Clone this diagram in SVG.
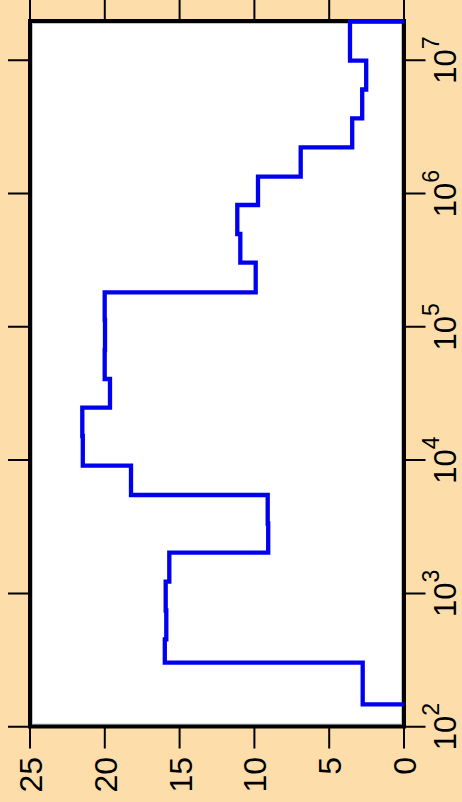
<svg xmlns="http://www.w3.org/2000/svg" width="462" height="802" viewBox="0 0 462 802">
  <style>
    .tick { stroke: #000; stroke-width: 2; fill: none; }
    .lbl { font-family: "Liberation Sans", Arial, sans-serif; font-size: 32px; fill: #000; }
    .lbl2 { font-family: "Liberation Sans", Arial, sans-serif; font-size: 31px; fill: #000; }
    .sup { font-size: 23px; }
    .series { stroke: #0000F0; stroke-width: 4.3; fill: none; stroke-linejoin: miter; stroke-linecap: butt; }
  </style>
  <rect x="0" y="0" width="462" height="802" fill="#FDDEAB"/>
  <g id="plot-area">
    <rect x="30" y="21" width="374" height="705.5" fill="#FFFFFF"/>
    <rect x="32.5" y="23.5" width="369" height="700.5" fill="none" stroke="#C4C4C4" stroke-width="1"/>
  </g>
  <g id="ticks">
    <path class="tick" d="M30 726 V748.5 M104.8 726 V748.5 M179.6 726 V748.5 M254.4 726 V748.5 M329.2 726 V748.5 M404 726 V748.5"/>
    <path class="tick" d="M30 -3 V21 M104.8 -3 V21 M179.6 -3 V21 M254.4 -3 V21 M329.2 -3 V21 M404 -3 V21"/>
    <path class="tick" d="M8 726.7 H30 M8 593.4 H30 M8 460.1 H30 M8 326.8 H30 M8 193.5 H30 M8 60.2 H30"/>
    <path class="tick" d="M404 726.7 H425.5 M404 593.4 H425.5 M404 460.1 H425.5 M404 326.8 H425.5 M404 193.5 H425.5 M404 60.2 H425.5"/>
  </g>
  <g id="frame">
    <rect x="30" y="21" width="374" height="705.5" fill="none" stroke="#000" stroke-width="4"/>
  </g>
  <g id="series">
    <path class="series" d="M404 21.5 H350 V60.7 H366.2 V89.5 H362.2 V118.3 H352.2 V147.3 H300.7 V176.7 H258 V205 H237.3 V234 H240.3 V262.7 H255.7 V292.3 H104.7 V320 H105 V350 H104.7 V379 H110 V407.7 H82.3 V436 H82.8 V465.7 H131 V495 H267.7 V523.5 H268.2 V552.7 H169.3 V581.7 H165.7 V610.5 H166.3 V639.3 H164.8 V662.7 H362.7 V704.3 H404"/>
  </g>
  <g id="count-labels" class="lbl" text-anchor="end">
    <text transform="translate(42,757) rotate(-90)">25</text>
    <text transform="translate(116.8,757) rotate(-90)">20</text>
    <text transform="translate(191.6,757) rotate(-90)">15</text>
    <text transform="translate(266.4,757) rotate(-90)">10</text>
    <text transform="translate(341.2,757) rotate(-90)">5</text>
    <text transform="translate(416,757) rotate(-90)">0</text>
  </g>
  <g id="log-labels" class="lbl2" text-anchor="middle">
    <text transform="translate(456,726.7) rotate(-90)">10<tspan class="sup" dy="-17">2</tspan></text>
    <text transform="translate(456,593.4) rotate(-90)">10<tspan class="sup" dy="-17">3</tspan></text>
    <text transform="translate(456,460.1) rotate(-90)">10<tspan class="sup" dy="-17">4</tspan></text>
    <text transform="translate(456,326.8) rotate(-90)">10<tspan class="sup" dy="-17">5</tspan></text>
    <text transform="translate(456,193.5) rotate(-90)">10<tspan class="sup" dy="-17">6</tspan></text>
    <text transform="translate(456,60.2) rotate(-90)">10<tspan class="sup" dy="-17">7</tspan></text>
  </g>
</svg>
